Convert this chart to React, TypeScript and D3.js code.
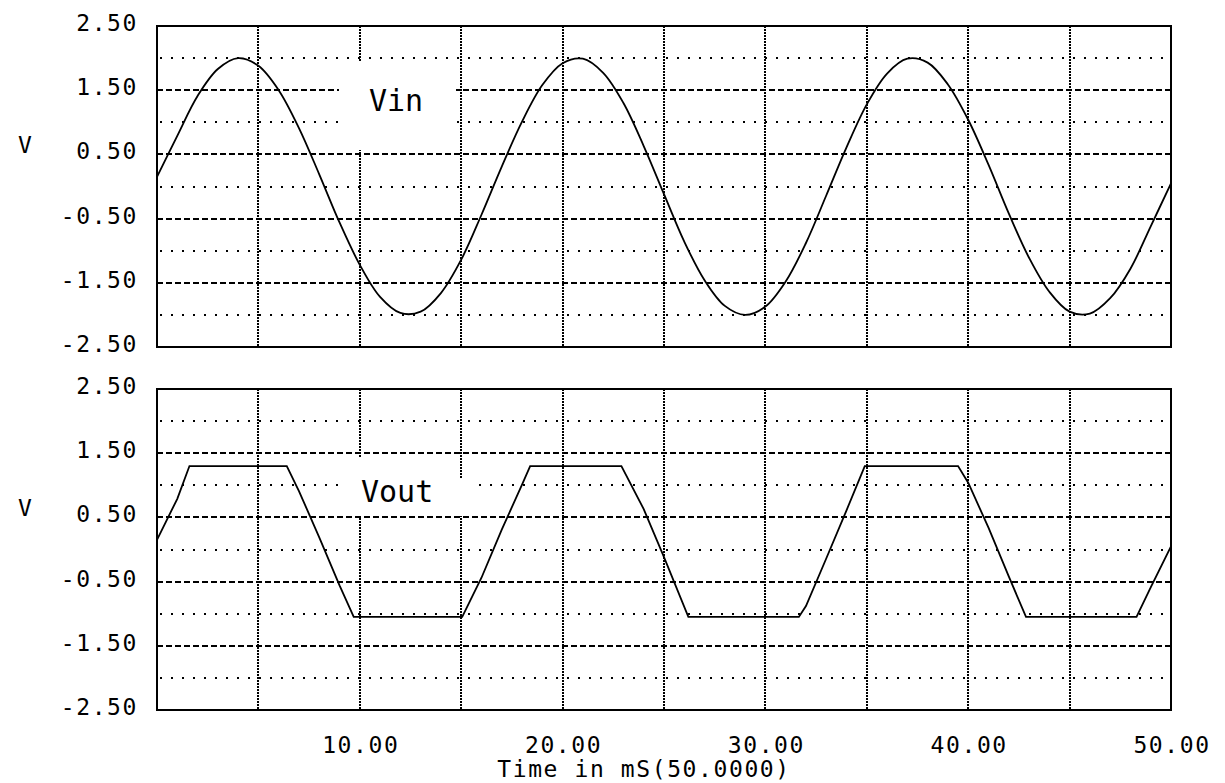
import React from "react";
import * as d3 from "d3";

// ---- data ----
const timeTicks = [10, 20, 30, 40, 50];
const gridTimes = [5, 10, 15, 20, 25, 30, 35, 40, 45];
const yTickValues = [2.5, 1.5, 0.5, -0.5, -1.5, -2.5];
const dashedLevels = [1.5, 0.5, -0.5, -1.5];
const dottedLevels = [2, 1, 0, -1, -2];

// Vin sampled every 1 ms (0..50)
const vinTimes = d3.range(0, 51, 1);
const vinValues = [
  0.15, 0.79, 1.41, 1.83, 2.0, 1.88, 1.5, 0.91, 0.19, -0.56,
  -1.22, -1.72, -1.97, -1.95, -1.66, -1.14, -0.44, 0.31, 1.01, 1.58,
  1.92, 1.99, 1.77, 1.3, 0.63, -0.12, -0.86, -1.46, -1.86, -2.0,
  -1.87, -1.48, -0.88, -0.14, 0.61, 1.28, 1.76, 1.99, 1.93, 1.59,
  1.04, 0.34, -0.42, -1.11, -1.64, -1.95, -1.98, -1.74, -1.28, -0.62,
  0.05,
];

// Vout breakpoints (clipped waveform)
const voutTimes = [
  0, 1, 1.6, 6.4, 7, 8, 9, 9.7, 15.05, 16, 17, 18, 18.4, 22.9, 24, 25,
  26.2, 31.65, 32, 33, 34, 34.9, 39.5, 40, 41, 42, 42.85, 48.3, 49, 50,
];
const voutValues = [
  0.15, 0.79, 1.3, 1.3, 0.91, 0.19, -0.56, -1.05, -1.05, -0.44, 0.31, 1.01,
  1.3, 1.3, 0.63, -0.12, -1.05, -1.05, -0.88, -0.14, 0.61, 1.3, 1.3, 1.04,
  0.34, -0.42, -1.05, -1.05, -0.59, 0.05,
];

const FONT = "'DejaVu Sans Mono', monospace";

const x = d3.scaleLinear().domain([0, 50]).range([157, 1171]);

type PanelProps = {
  top: number;
  bottom: number;
  times: number[];
  values: number[];
  curved: boolean;
  label: string;
  labelX: number;
  labelDy: number;
  boxes: [number, number, number, number][];
};

function Panel({ top, bottom, times, values, curved, label, labelX, labelDy, boxes }: PanelProps) {
  const y = d3.scaleLinear().domain([-2.5, 2.5]).range([bottom, top]);
  const pts: [number, number][] = times.map((t, i) => [t, values[i]]);
  const line = d3
    .line<[number, number]>()
    .x((d) => x(d[0]))
    .y((d) => y(d[1]))
    .curve(curved ? d3.curveCatmullRom.alpha(0.5) : d3.curveLinear);
  const [x0, x1] = x.range();
  const r = (v: number) => Math.round(v);
  return (
    <g>
      {/* horizontal dotted */}
      {dottedLevels.map((v) => (
        <line key={"hd" + v} x1={x0 + 3} x2={x1} y1={r(y(v))} y2={r(y(v))} stroke="#000" strokeWidth={2} strokeDasharray="2 9" shapeRendering="crispEdges" />
      ))}
      {/* horizontal dashed */}
      {dashedLevels.map((v) => (
        <line key={"hs" + v} x1={x0} x2={x1} y1={r(y(v))} y2={r(y(v))} stroke="#000" strokeWidth={2} strokeDasharray="6 3" shapeRendering="crispEdges" />
      ))}
      {/* vertical dotted */}
      {gridTimes.map((t) => (
        <line key={"v" + t} x1={r(x(t))} x2={r(x(t))} y1={top} y2={bottom} stroke="#000" strokeWidth={2} strokeDasharray="2 1" shapeRendering="crispEdges" />
      ))}
      <path d={line(pts) || ""} fill="none" stroke="#000" strokeWidth={1.8} />
      {boxes.map((b, i) => (
        <rect key={"b" + i} x={b[0]} y={b[1]} width={b[2] - b[0]} height={b[3] - b[1]} fill="#fff" />
      ))}
      <text x={labelX} y={top + labelDy} fontFamily={FONT} fontSize={30} fill="#000">
        {label}
      </text>
      <rect x={x0} y={top} width={x1 - x0} height={bottom - top} fill="none" stroke="#000" strokeWidth={2.5} shapeRendering="crispEdges" />
      {yTickValues.map((v) => (
        <text key={"yl" + v} x={138} y={y(v) + 5} textAnchor="end" fontFamily={FONT} fontSize={23} letterSpacing={1.6} fill="#000">
          {v.toFixed(2)}
        </text>
      ))}
      <text x={18} y={top + 127} fontFamily={FONT} fontSize={23} fill="#000">
        V
      </text>
    </g>
  );
}

export default function App() {
  return (
    <div style={{ position: "absolute", left: 0, top: 0 }}>
      <svg width={1225} height={783} style={{ display: "block", background: "#fff" }}>
        <Panel
          top={26}
          bottom={347}
          times={vinTimes}
          values={vinValues}
          curved={true}
          label="Vin"
          labelX={369}
          labelDy={85}
          boxes={[[339, 62, 456, 150]]}
        />
        <Panel
          top={389}
          bottom={710}
          times={voutTimes}
          values={voutValues}
          curved={false}
          label="Vout"
          labelX={361}
          labelDy={113}
          boxes={[
            [344, 458, 458, 516],
            [344, 479, 470, 516],
          ]}
        />
        {timeTicks.map((t) => (
          <text key={"xt" + t} x={x(t) + 1} y={753} textAnchor="middle" fontFamily={FONT} fontSize={23} letterSpacing={1.6} fill="#000">
            {t.toFixed(2)}
          </text>
        ))}
        <text x={644} y={777} textAnchor="middle" fontFamily={FONT} fontSize={23} letterSpacing={1.6} fill="#000">
          Time in mS(50.0000)
        </text>
      </svg>
    </div>
  );
}
